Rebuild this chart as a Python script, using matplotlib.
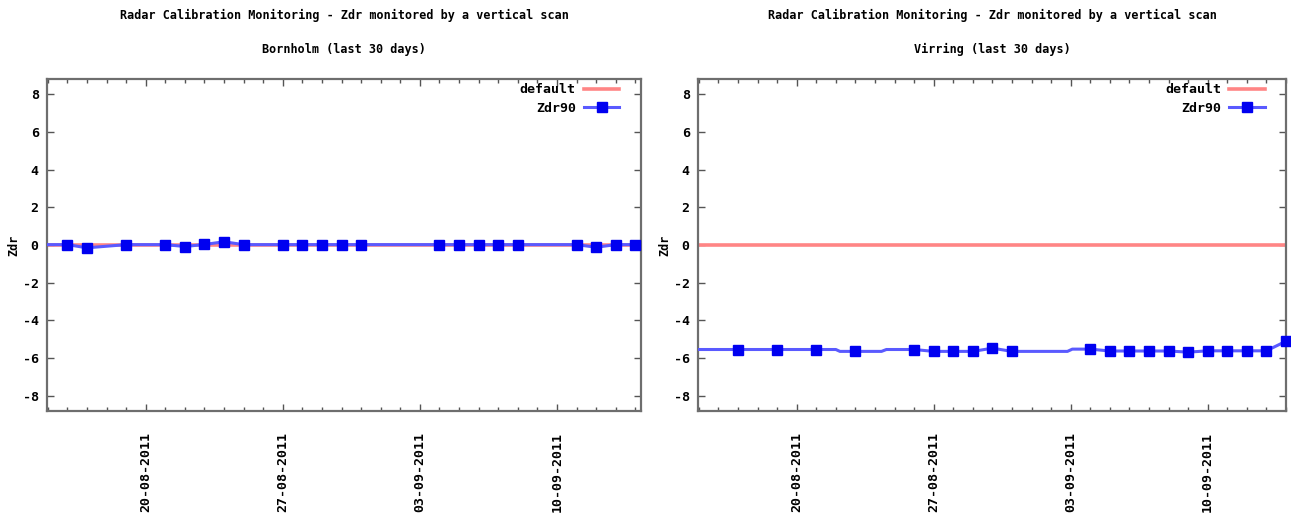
#!/usr/bin/env python3
import pandas as pd
import matplotlib
matplotlib.use('Agg')
import matplotlib.pyplot as plt
import matplotlib.dates as mdates

title_top = 'Radar Calibration Monitoring - Zdr monitored by a vertical scan'
stations = ['Bornholm', 'Virring']

# daily Zdr90 points (markers)
born_days = ['2011-08-16', '2011-08-17', '2011-08-19', '2011-08-21', '2011-08-22',
             '2011-08-23', '2011-08-24', '2011-08-25', '2011-08-27', '2011-08-28',
             '2011-08-29', '2011-08-30', '2011-08-31', '2011-09-04', '2011-09-05',
             '2011-09-06', '2011-09-07', '2011-09-08', '2011-09-11', '2011-09-12',
             '2011-09-13', '2011-09-14']
born_zdr = [0.02, -0.15, 0.02, 0.02, -0.08, 0.03, 0.17, 0.02, 0.02, 0.02, 0.02,
            0.02, 0.02, 0.02, 0.02, 0.02, 0.02, 0.02, 0.02, -0.12, 0.02, 0.02]
# extra line vertices (line runs past the markers)
born_line_days = ['2011-08-14 00:00', '2011-09-15 00:00']
born_line_zdr = [0.02, 0.02]

virr_days = ['2011-08-17', '2011-08-19', '2011-08-21', '2011-08-23', '2011-08-26',
             '2011-08-27', '2011-08-28', '2011-08-29', '2011-08-30', '2011-08-31',
             '2011-09-04', '2011-09-05', '2011-09-06', '2011-09-07', '2011-09-08',
             '2011-09-09', '2011-09-10', '2011-09-11', '2011-09-12', '2011-09-13',
             '2011-09-14']
virr_zdr = [-5.54, -5.54, -5.54, -5.64, -5.54, -5.64, -5.64, -5.64, -5.47, -5.64,
            -5.52, -5.62, -5.62, -5.62, -5.62, -5.68, -5.61, -5.61, -5.61, -5.61,
            -5.10]
virr_line_days = ['2011-08-14 00:00', '2011-08-22 00:00', '2011-08-22 05:00',
                  '2011-08-24 08:00', '2011-08-24 14:00', '2011-09-02 20:00',
                  '2011-09-03 02:00']
virr_line_zdr = [-5.54, -5.54, -5.64, -5.64, -5.54, -5.64, -5.52]

default_zdr = 0.0
date_ticks = ['2011-08-20', '2011-08-27', '2011-09-03', '2011-09-10']

FONT = 'DejaVu Sans Mono'
plt.rcParams['axes.unicode_minus'] = False


def draw_panel(ax, name, days, zdr, line_days, line_zdr, xmax):
    pts = pd.DataFrame({'t': pd.to_datetime(days + line_days, format='mixed'),
                        'v': zdr + line_zdr})
    pts = pts.sort_values('t')
    xlim = (pd.Timestamp('2011-08-14 23:00'), pd.Timestamp(xmax))

    ax.plot(xlim, [default_zdr, default_zdr], color='#ff8585', lw=2.6,
            solid_capstyle='butt', zorder=2)
    ax.plot(pts['t'], pts['v'], color='#5a5aff', lw=2.2, zorder=3)
    ax.plot(pd.to_datetime(days), zdr, ls='none', marker='s', ms=6.5,
            color='#0000f0', zorder=4, clip_on=False)

    ax.set_xlim(*xlim)
    ax.set_ylim(-8.8, 8.8)
    ax.set_yticks(range(-8, 9, 2))
    ax.set_xticks(pd.to_datetime(date_ticks))
    ax.xaxis.set_major_formatter(mdates.DateFormatter('%d-%m-%Y'))
    ax.xaxis.set_minor_locator(mdates.DayLocator())
    ax.tick_params(which='both', direction='in', top=True, right=True,
                   color='#555555', width=1)
    ax.tick_params(which='major', length=5, pad=6)
    ax.tick_params(which='minor', length=3)
    ax.tick_params(axis='x', which='major', pad=15)
    for lbl in ax.get_xticklabels():
        lbl.set_rotation(90)
        lbl.set_fontfamily(FONT)
        lbl.set_fontweight('bold')
        lbl.set_fontsize(9.5)
    for lbl in ax.get_yticklabels():
        lbl.set_fontfamily(FONT)
        lbl.set_fontweight('bold')
        lbl.set_fontsize(9.5)
    for sp in ax.spines.values():
        sp.set_color('#6e6e6e')
        sp.set_linewidth(1.6)

    ax.set_ylabel('Zdr', family=FONT, weight='bold', fontsize=8.5)
    ax.yaxis.set_label_coords(-0.045, 0.5)
    ax.text(0.5, 1.19, title_top, transform=ax.transAxes, ha='center',
            va='center', family=FONT, weight='bold', fontsize=8.5)
    ax.text(0.5, 1.088, '%s (last 30 days)' % name, transform=ax.transAxes,
            ha='center', va='center', family=FONT, weight='bold', fontsize=8.5)

    h1, = ax.plot([], [], color='#ff8585', lw=2.6)
    h2, = ax.plot([], [], color='#5a5aff', lw=2.2, marker='s', ms=6.5,
                  markerfacecolor='#0000f0', markeredgecolor='#0000f0')
    ax.legend([h1, h2], ['default', 'Zdr90'], loc='upper right',
              bbox_to_anchor=(0.968, 0.995), frameon=False,
              markerfirst=False, handlelength=2.7, handletextpad=0.6,
              labelspacing=0.42, borderaxespad=0.0, borderpad=0.2,
              prop={'family': FONT, 'weight': 'bold', 'size': 9.5})


fig = plt.figure(figsize=(12.91, 5.25), dpi=100)
ax1 = fig.add_axes([47 / 1291, 1 - 411 / 525, 594 / 1291, 332 / 525])
ax2 = fig.add_axes([698 / 1291, 1 - 411 / 525, 588 / 1291, 332 / 525])

draw_panel(ax1, stations[0], born_days, born_zdr, born_line_days, born_line_zdr,
           '2011-09-14 07:00')
draw_panel(ax2, stations[1], virr_days, virr_zdr, virr_line_days, virr_line_zdr,
           '2011-09-14 00:00')

fig.savefig('out.png', dpi=100)
